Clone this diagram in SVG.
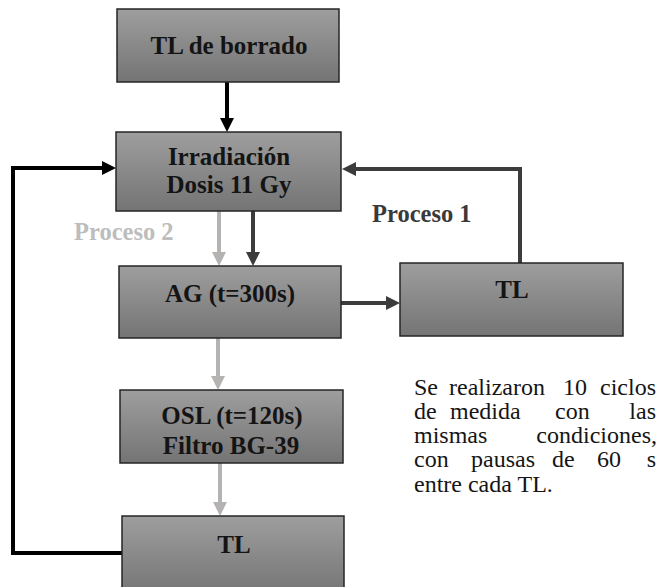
<svg xmlns="http://www.w3.org/2000/svg" width="660" height="587" viewBox="0 0 660 587">
<style>
.box{fill:url(#g);stroke:#262626;stroke-width:1.5}
.bt{font-family:"Liberation Serif","Times New Roman",serif;font-weight:bold;font-size:25px;fill:#141414;text-anchor:middle}
.lbl{font-family:"Liberation Serif","Times New Roman",serif;font-weight:bold;font-size:24.5px}
.p{font-family:"Liberation Serif","Times New Roman",serif;font-size:24px;fill:#151515}
.k{fill:none;stroke:#000;stroke-width:4;stroke-linejoin:miter}
.d{fill:none;stroke:#3c3c3c;stroke-width:4}
.l{fill:none;stroke:#b5b2b2;stroke-width:4}
</style>
<defs>
<linearGradient id="g" x1="0" y1="0" x2="0" y2="1">
<stop offset="0" stop-color="#9e9e9e"/>
<stop offset="1" stop-color="#747474"/>
</linearGradient>
<marker id="ak" markerUnits="userSpaceOnUse" markerWidth="16" markerHeight="16" refX="4" refY="8" orient="auto" viewBox="0 0 16 16"><path d="M0,1 L14,8 L0,15 z" fill="#000"/></marker>
<marker id="ad" markerUnits="userSpaceOnUse" markerWidth="16" markerHeight="16" refX="4" refY="8" orient="auto" viewBox="0 0 16 16"><path d="M0,1 L14,8 L0,15 z" fill="#3c3c3c"/></marker>
<marker id="al" markerUnits="userSpaceOnUse" markerWidth="16" markerHeight="16" refX="4" refY="8" orient="auto" viewBox="0 0 16 16"><path d="M0,1 L14,8 L0,15 z" fill="#b5b2b2"/></marker>
</defs>
<g id="connectors">
<path class="k" d="M227,82 V122" marker-end="url(#ak)"/>
<path class="k" d="M122,553 H13 V168 H106" marker-end="url(#ak)"/>
<path class="l" d="M219,211 V256" marker-end="url(#al)"/>
<path class="d" d="M253,211 V256" marker-end="url(#ad)"/>
<path class="d" d="M341,303 H390" marker-end="url(#ad)"/>
<path class="d" d="M520,263 V169 H352" marker-end="url(#ad)"/>
<path class="l" d="M218,338 V380" marker-end="url(#al)"/>
<path class="l" d="M220,463 V506" marker-end="url(#al)"/>
<text class="lbl" x="74" y="240" fill="#bdbdbd">Proceso 2</text>
<text class="lbl" x="372" y="222" fill="#3a3a3a">Proceso 1</text>
</g>
<g id="n1"><rect class="box" x="117" y="9" width="222" height="73"/><text class="bt" x="229" y="54">TL de borrado</text></g>
<g id="n2"><rect class="box" x="116" y="132" width="225" height="79"/><text class="bt" x="229" y="165">Irradiación</text><text class="bt" x="229" y="193">Dosis 11 Gy</text></g>
<g id="n3"><rect class="box" x="119" y="266" width="222" height="72"/><text class="bt" x="230" y="302">AG (t=300s)</text></g>
<g id="n4"><rect class="box" x="400" y="263" width="223" height="73"/><text class="bt" x="512" y="298">TL</text></g>
<g id="n5"><rect class="box" x="120" y="390" width="223" height="73"/><text class="bt" x="232" y="424">OSL (t=120s)</text><text class="bt" x="231" y="454">Filtro BG-39</text></g>
<g id="n6"><rect class="box" x="122" y="516" width="222" height="80"/><text class="bt" x="234" y="553">TL</text></g>
<g id="note" class="p">
<text x="414" y="395">Se</text><text x="449" y="395">realizaron</text><text x="563" y="395">10</text><text x="656" y="395" text-anchor="end">ciclos</text>
<text x="414" y="419">de</text><text x="450" y="419">medida</text><text x="555" y="419">con</text><text x="656" y="419" text-anchor="end">las</text>
<text x="414" y="443">mismas</text><text x="657" y="443" text-anchor="end">condiciones,</text>
<text x="414" y="467">con</text><text x="471" y="467">pausas</text><text x="552" y="467">de</text><text x="597" y="467">60</text><text x="656" y="467" text-anchor="end">s</text>
<text x="414" y="492">entre cada TL.</text>
</g>
</svg>
